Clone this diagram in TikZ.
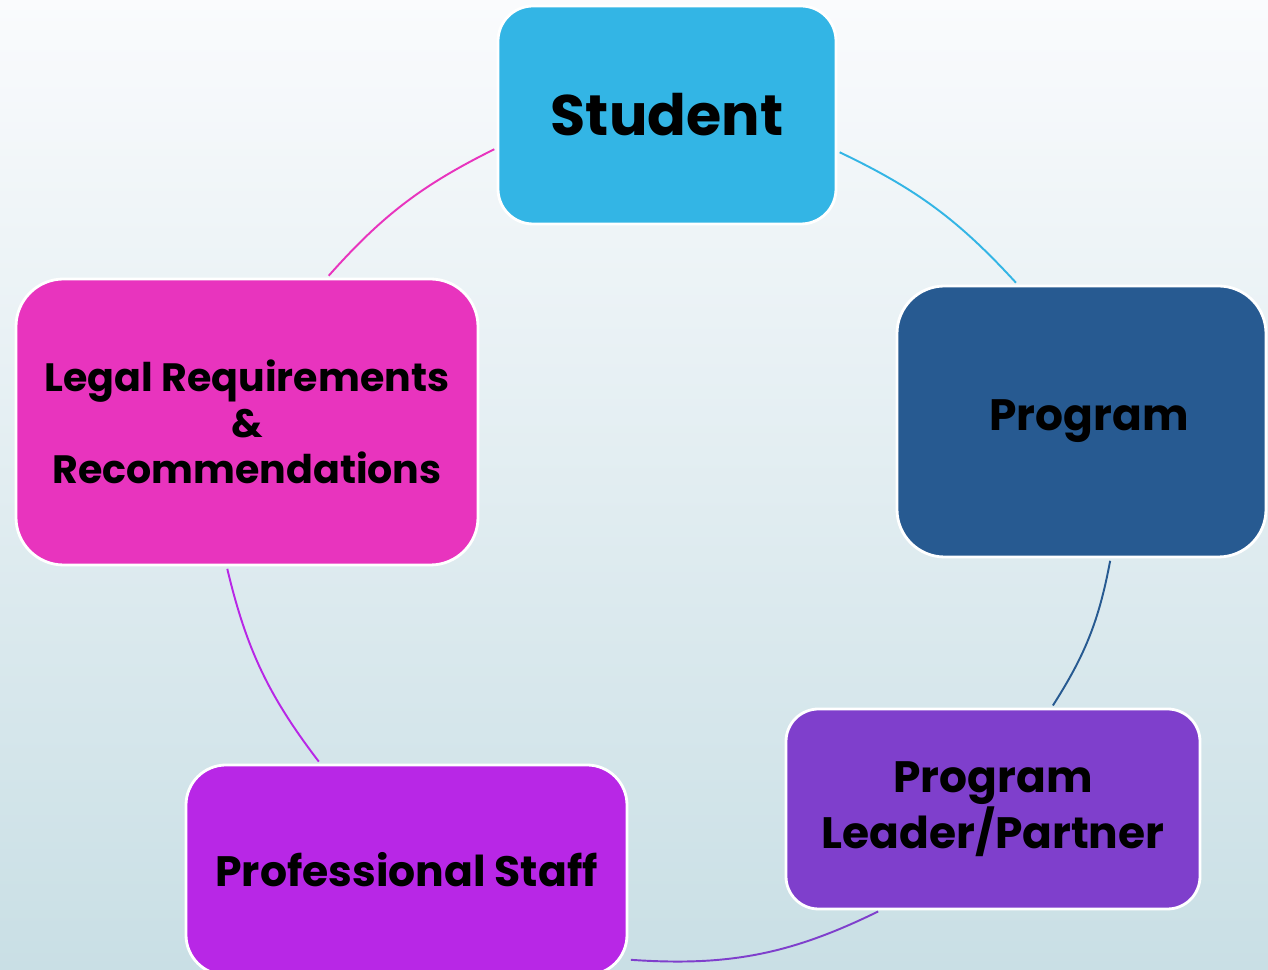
\documentclass[tikz,border=0pt]{standalone}
\usepackage{fontspec}
\setmainfont{Poppins}
\definecolor{studentblue}{HTML}{33B5E5}
\definecolor{programblue}{HTML}{275A91}
\definecolor{leaderpurple}{HTML}{7F3FCC}
\definecolor{staffviolet}{HTML}{B827E6}
\definecolor{legalpink}{HTML}{E834BE}
\definecolor{bgtop}{HTML}{FAFBFD}
\definecolor{bgbottom}{HTML}{C9DFE5}
\tikzset{
  box/.style={draw=white, line width=1.6pt, align=center, inner sep=0pt},
  link/.style={line width=1.1pt, shorten <=0.05cm, shorten >=0.05cm}
}
\begin{document}
\begin{tikzpicture}
  \clip (0,0) rectangle (25.36,19.4);
  \fill[top color=bgtop, bottom color=bgbottom] (0,0) rectangle (25.36,19.4);
  % the five boxes of the cycle
  \node[box, fill=studentblue, minimum width=6.76cm, minimum height=4.36cm, rounded corners=0.7cm,
        font=\bfseries\fontsize{32.5}{38}\selectfont] (student) at (13.34,17.1) {Student};
  \node[box, fill=programblue, minimum width=7.38cm, minimum height=5.42cm, rounded corners=0.95cm,
        font=\bfseries\fontsize{25}{30}\selectfont] (program) at (21.63,10.97) {\hspace*{0.3cm}Program};
  \node[box, fill=leaderpurple, minimum width=8.28cm, minimum height=4.0cm, rounded corners=0.65cm,
        font=\bfseries\fontsize{25}{27.8}\selectfont] (leader) at (19.86,3.22) {Program\\Leader/Partner};
  \node[box, fill=staffviolet, minimum width=8.82cm, minimum height=4.2cm, rounded corners=0.8cm,
        font=\bfseries\fontsize{24.2}{29}\selectfont] (staff) at (8.13,2.0) {Professional Staff};
  \node[box, fill=legalpink, minimum width=9.24cm, minimum height=5.72cm, rounded corners=0.95cm,
        font=\bfseries\fontsize{22.5}{26}\selectfont] (legal) at (4.94,10.96) {Legal Requirements\\\&\\Recommendations};
  % arcs between neighbours
  \begin{scope}[link]
    \draw[studentblue] (student.348.5) to[bend left=11] (program.115.5);
    \draw[programblue] (program.282) to[bend left=11] (leader.60.5);
    \draw[leaderpurple] (leader.222) to[bend left=15] (staff.338);
    \draw[staffviolet] (staff.129.5) to[bend left=12] (legal.262);
    \draw[legalpink] (legal.61) to[bend left=11] (student.191.5);
  \end{scope}
\end{tikzpicture}
\end{document}
